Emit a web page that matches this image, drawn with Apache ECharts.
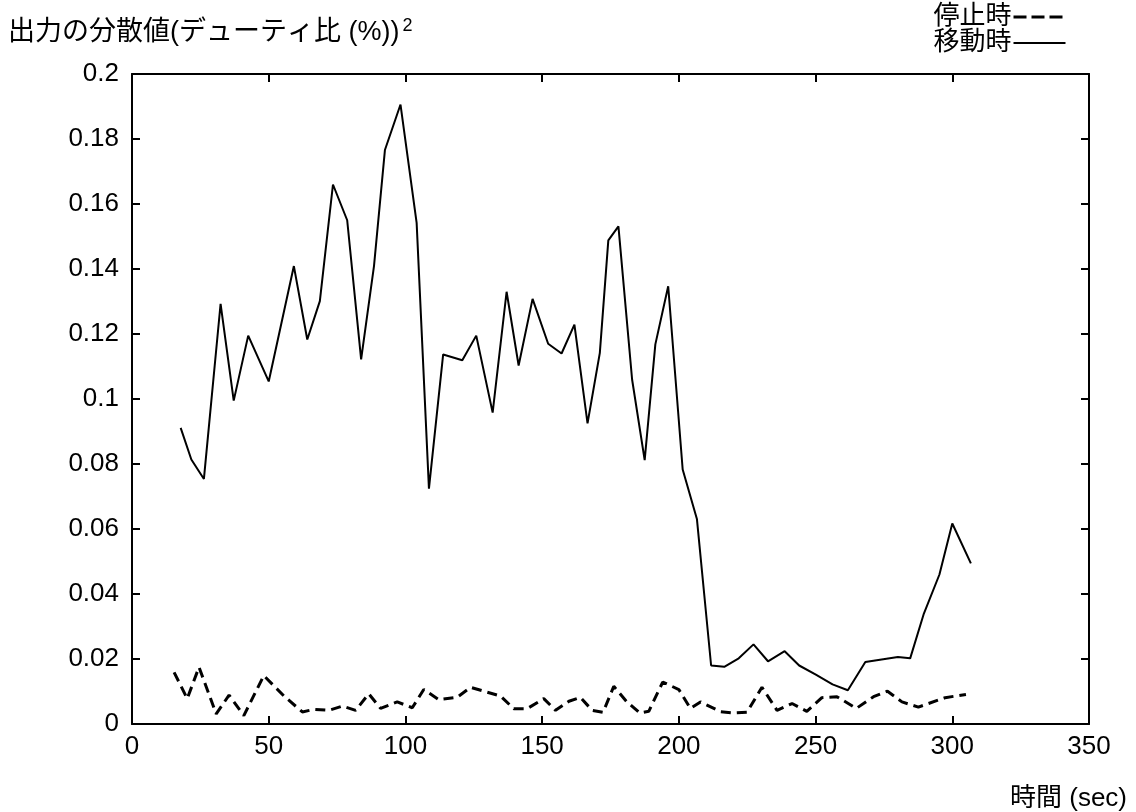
<!DOCTYPE html>
<html>
<head>
<meta charset="utf-8">
<script src="https://cdn.jsdelivr.net/npm/echarts@6/dist/echarts.min.js"></script>
<style>
  html, body { margin: 0; padding: 0; background: #fff; }
  #chart { width: 1136px; height: 812px; }
</style>
</head>
<body>
<div id="chart"></div>
<script>
// Time (sec) and variance for the moving state
const moveTime = [17.8, 21.7, 26.3, 32.4, 37.2, 42.5, 50.0, 59.2, 64.1, 68.7, 73.5, 78.7, 83.8, 88.5, 92.5, 98.2,
  104.1, 108.6, 113.8, 120.8, 125.9, 131.9, 137.0, 141.4, 146.5, 152.2, 157.1, 161.8, 166.6, 171.1, 174.2, 177.9,
  182.9, 187.5, 191.4, 196.1, 201.4, 206.6, 211.8, 216.6, 221.9, 227.3, 232.6, 238.7, 244.0, 250.1, 256.2, 261.8,
  268.2, 280.1, 284.6, 289.5, 295.3, 300.0, 306.8];
const moveVar = [0.0911, 0.0814, 0.0754, 0.1293, 0.0995, 0.1195, 0.1054, 0.1409, 0.1183, 0.1301, 0.1660, 0.1550,
  0.1122, 0.1409, 0.1766, 0.1906, 0.1542, 0.0724, 0.1137, 0.1119, 0.1195, 0.0958, 0.1330, 0.1103, 0.1308, 0.1170,
  0.1140, 0.1229, 0.0925, 0.1142, 0.1488, 0.1531, 0.1060, 0.0812, 0.1168, 0.1347, 0.0783, 0.0631, 0.0180, 0.0176,
  0.0202, 0.0245, 0.0193, 0.0224, 0.0180, 0.0152, 0.0122, 0.0104, 0.0191, 0.0206, 0.0202, 0.0337, 0.0460, 0.0617,
  0.0494];

// Time (sec) and variance for the stopped state
const stopTime = [15.4, 20.2, 24.5, 30.8, 35.5, 40.9, 48.2, 55.6, 62.3, 66.5, 72.0, 77.0, 81.8, 86.6, 90.9, 97.0,
  102.5, 106.7, 112.2, 118.9, 123.8, 134.8, 139.6, 144.5, 150.6, 154.9, 159.8, 164.0, 168.3, 172.3, 176.2, 180.8,
  185.7, 189.0, 194.1, 200.0, 204.2, 207.9, 215.2, 220.0, 224.9, 230.4, 235.9, 241.4, 246.8, 252.3, 257.8, 264.9,
  271.2, 276.3, 281.6, 287.6, 297.4, 305.0];
const stopVar = [0.0159, 0.0078, 0.0175, 0.0031, 0.0089, 0.0026, 0.0149, 0.0086, 0.0037, 0.0045, 0.0042, 0.0055,
  0.0042, 0.0093, 0.0048, 0.0068, 0.0050, 0.0106, 0.0075, 0.0082, 0.0113, 0.0086, 0.0047, 0.0047, 0.0078, 0.0042,
  0.0070, 0.0082, 0.0042, 0.0036, 0.0116, 0.0070, 0.0034, 0.0039, 0.0129, 0.0106, 0.0048, 0.0068, 0.0038, 0.0034,
  0.0036, 0.0113, 0.0042, 0.0063, 0.0039, 0.0081, 0.0084, 0.0048, 0.0084, 0.0101, 0.0068, 0.0052, 0.0081, 0.0091];

const xTickLabels = ['0', '50', '100', '150', '200', '250', '300', '350'];
const yTickLabels = ['0', '0.02', '0.04', '0.06', '0.08', '0.1', '0.12', '0.14', '0.16', '0.18', '0.2'];

const FONT = "'Liberation Sans', 'Noto Sans CJK JP', sans-serif";
const axisLine = () => ({ onZero: false, lineStyle: { color: '#000', width: 2 } });
const axisTick = () => ({ inside: true, length: 8, lineStyle: { color: '#000', width: 2 } });

const pair = (xs, ys) => xs.map((x, i) => [x, ys[i]]);

const chart = echarts.init(document.getElementById('chart'), null, { renderer: 'canvas' });

chart.setOption({
  animation: false,
  backgroundColor: '#fff',
  textStyle: { fontFamily: FONT, color: '#000' },
  title: [{
    text: '{t|出力の分散値(デューティ比 (%))}{s|2}',
    left: 8,
    top: 17,
    padding: 0,
    textStyle: {
      fontWeight: 'normal',
      rich: {
        t: { fontFamily: FONT, fontSize: 27, color: '#000', fontWeight: 'normal' },
        s: { fontFamily: FONT, fontSize: 18, color: '#000', fontWeight: 'normal', verticalAlign: 'top', padding: [0, 0, 14, 3] }
      }
    }
  }],
  legend: {
    orient: 'vertical',
    align: 'right',
    right: 69,
    top: 4,
    padding: 0,
    itemGap: 0,
    itemWidth: 52,
    itemHeight: 24,
    textStyle: { fontFamily: FONT, fontSize: 26, color: '#000', padding: [0, -3, 0, 0] },
    data: [
      { name: '停止時', itemStyle: { opacity: 0 }, lineStyle: { type: [13, 5], width: 3, color: '#000' } },
      { name: '移動時', itemStyle: { opacity: 0 }, lineStyle: { type: 'solid', width: 2, color: '#000' } }
    ]
  },
  grid: { left: 132, right: 47, top: 74, bottom: 87, containLabel: false },
  xAxis: [{
    type: 'value',
    position: 'bottom',
    min: 0, max: 350, interval: 50,
    name: '時間 (sec)',
    nameLocation: 'end',
    nameGap: 0,
    nameTextStyle: { fontFamily: FONT, fontSize: 26, color: '#000', align: 'right', verticalAlign: 'top', padding: [62, -38, 0, 0] },
    axisLine: axisLine(),
    axisTick: axisTick(),
    splitLine: { show: false },
    axisLabel: {
      fontFamily: FONT, fontSize: 26, color: '#000', margin: 10,
      formatter: (v) => xTickLabels[Math.round(v / 50)]
    }
  }, {
    type: 'value',
    position: 'top',
    min: 0, max: 350, interval: 50,
    axisLine: axisLine(),
    axisTick: axisTick(),
    splitLine: { show: false },
    axisLabel: { show: false }
  }],
  yAxis: [{
    type: 'value',
    position: 'left',
    min: 0, max: 0.2, interval: 0.02,
    axisLine: axisLine(),
    axisTick: axisTick(),
    splitLine: { show: false },
    axisLabel: {
      fontFamily: FONT, fontSize: 26, color: '#000', margin: 13,
      formatter: (v) => yTickLabels[Math.round(v / 0.02)]
    }
  }, {
    type: 'value',
    position: 'right',
    min: 0, max: 0.2, interval: 0.02,
    axisLine: axisLine(),
    axisTick: axisTick(),
    splitLine: { show: false },
    axisLabel: { show: false }
  }],
  series: [{
    name: '停止時',
    type: 'line',
    xAxisIndex: 0, yAxisIndex: 0,
    data: pair(stopTime, stopVar),
    symbol: 'none',
    showSymbol: false,
    color: '#000',
    lineStyle: { color: '#000', width: 3, type: [10, 6] }
  }, {
    name: '移動時',
    type: 'line',
    xAxisIndex: 0, yAxisIndex: 0,
    data: pair(moveTime, moveVar),
    symbol: 'none',
    showSymbol: false,
    color: '#000',
    lineStyle: { color: '#000', width: 2, type: 'solid' }
  }]
});
</script>
</body>
</html>
